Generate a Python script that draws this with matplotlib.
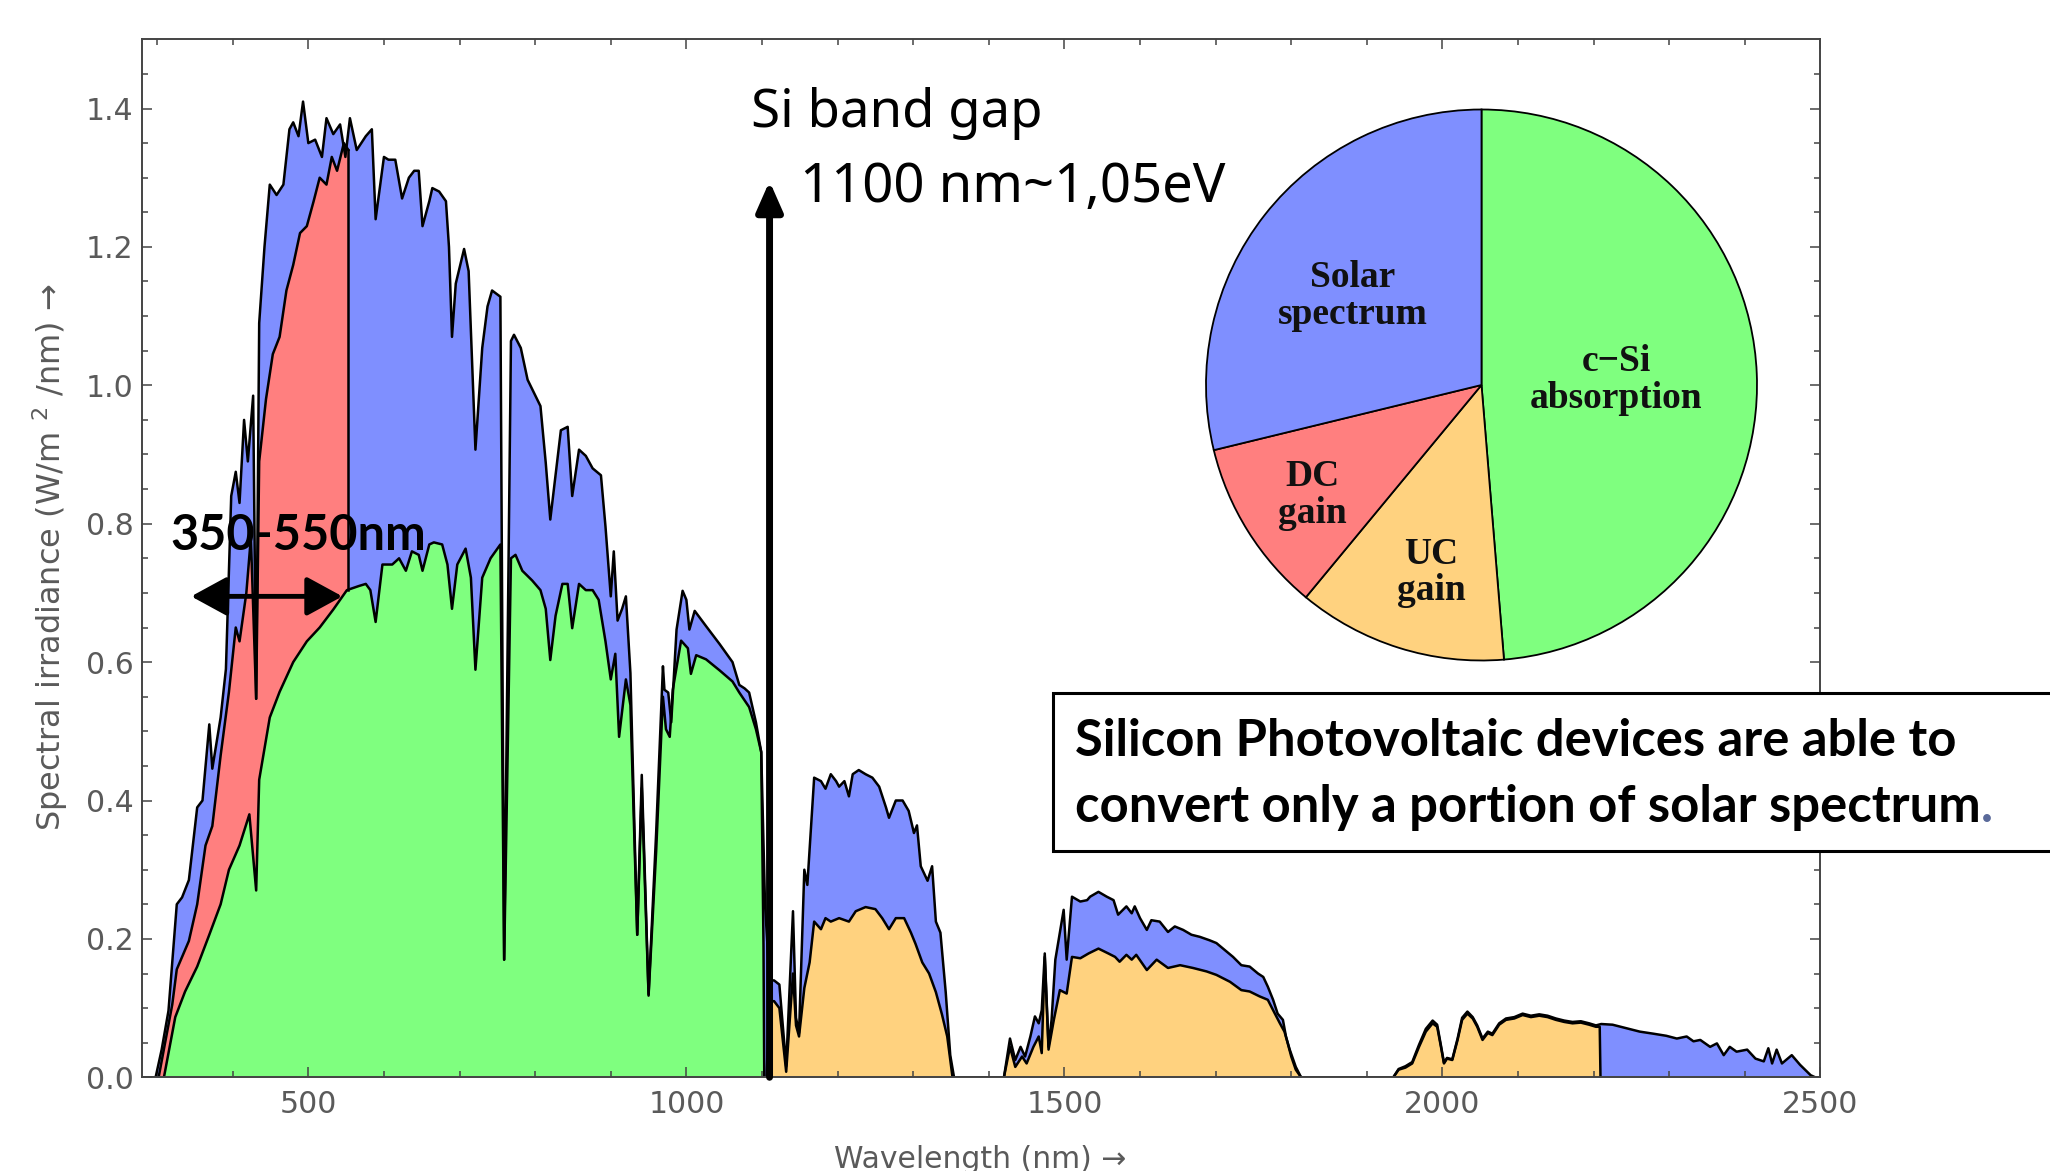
import matplotlib
matplotlib.use("Agg")
import matplotlib.pyplot as plt
from matplotlib.patches import Rectangle
from matplotlib.text import Annotation
import numpy as np

# AM1.5 solar spectrum (top curve): wavelength nm, W/m2/nm
solar_wl = [280, 298, 306, 315, 326, 333, 342, 353, 360, 369, 373, 384, 391, 398, 404, 409,
            415, 420, 427, 431, 435, 442, 449, 458, 467, 475, 480, 487, 493, 500, 509, 518,
            524, 533, 542, 549, 555, 564, 576, 584, 589, 600, 606, 615, 624, 633, 640, 646,
            651, 660, 664, 673, 682, 686, 690, 695, 706, 712, 721, 730, 737, 743, 754, 759,
            768, 772, 781, 790, 798, 807, 814, 820, 827, 834, 843, 849, 858, 867, 876, 887,
            893, 900, 904, 909, 915, 920, 926, 935, 941, 950, 960, 969, 971, 976, 980, 987,
            995, 1000, 1004, 1011, 1026, 1044, 1061, 1070, 1077, 1083, 1092, 1099, 1104, 1110,
            1116, 1123, 1132, 1141, 1145, 1149, 1156, 1160, 1169, 1178, 1184, 1191, 1198, 1202,
            1209, 1215, 1220, 1228, 1237, 1246, 1255, 1264, 1268, 1277, 1286, 1294, 1301, 1305,
            1310, 1319, 1325, 1330, 1336, 1343, 1349, 1354, 1420, 1428, 1435, 1442, 1448, 1455,
            1461, 1466, 1470, 1474, 1479, 1483, 1488, 1499, 1503, 1510, 1521, 1530, 1534, 1545,
            1556, 1565, 1571, 1582, 1589, 1593, 1600, 1609, 1615, 1626, 1637, 1646, 1657, 1668,
            1679, 1692, 1701, 1712, 1723, 1734, 1745, 1756, 1763, 1769, 1776, 1782, 1789, 1793,
            1800, 1806, 1813, 1935, 1942, 1951, 1960, 1969, 1978, 1987, 1993, 1998, 2002, 2006,
            2013, 2020, 2026, 2033, 2040, 2046, 2053, 2060, 2066, 2075, 2084, 2095, 2106, 2117,
            2128, 2139, 2150, 2161, 2172, 2183, 2194, 2203, 2210, 2225, 2243, 2261, 2279, 2296,
            2310, 2323, 2332, 2341, 2354, 2363, 2372, 2380, 2389, 2403, 2414, 2425, 2431, 2436,
            2442, 2449, 2462, 2473, 2487, 2493, 2500]
solar_irr = [0.0, 0.0, 0.04, 0.096, 0.25, 0.26, 0.285, 0.39, 0.40, 0.51, 0.446, 0.52, 0.59, 0.84, 0.875, 0.83,
             0.95, 0.89, 0.985, 0.547, 1.09, 1.20, 1.29, 1.275, 1.29, 1.37, 1.38, 1.36, 1.41, 1.35, 1.355, 1.33,
             1.386, 1.363, 1.377, 1.33, 1.386, 1.34, 1.36, 1.37, 1.24, 1.33, 1.326, 1.326, 1.27, 1.30, 1.31, 1.31,
             1.23, 1.266, 1.285, 1.28, 1.266, 1.20, 1.07, 1.147, 1.197, 1.165, 0.907, 1.054, 1.114, 1.137, 1.128, 0.17,
             1.064, 1.073, 1.054, 1.008, 0.99, 0.97, 0.888, 0.806, 0.87, 0.935, 0.94, 0.84, 0.907, 0.898, 0.88, 0.87,
             0.796, 0.695, 0.76, 0.66, 0.677, 0.695, 0.584, 0.206, 0.437, 0.12, 0.353, 0.594, 0.56, 0.556, 0.513, 0.647,
             0.703, 0.69, 0.647, 0.674, 0.652, 0.626, 0.60, 0.567, 0.562, 0.556, 0.513, 0.47, 0.25, 0.14,
             0.14, 0.134, 0.016, 0.24, 0.086, 0.064, 0.30, 0.278, 0.433, 0.428, 0.417, 0.438, 0.428, 0.42,
             0.428, 0.406, 0.438, 0.444, 0.438, 0.433, 0.42, 0.39, 0.375, 0.40, 0.40, 0.385, 0.353, 0.364,
             0.305, 0.284, 0.305, 0.225, 0.209, 0.123, 0.032, 0.0, 0.0, 0.056, 0.025, 0.044, 0.03, 0.059,
             0.088, 0.078, 0.097, 0.179, 0.044, 0.083, 0.17, 0.242, 0.17, 0.261, 0.254, 0.256, 0.261, 0.268,
             0.261, 0.256, 0.235, 0.247, 0.237, 0.247, 0.23, 0.213, 0.227, 0.225, 0.21, 0.218, 0.213, 0.206,
             0.203, 0.198, 0.194, 0.184, 0.174, 0.162, 0.16, 0.15, 0.145, 0.131, 0.112, 0.092, 0.083, 0.059,
             0.03, 0.011, 0.0, 0.0, 0.012, 0.016, 0.022, 0.047, 0.07, 0.082, 0.076, 0.046, 0.021, 0.028,
             0.026, 0.056, 0.086, 0.095, 0.087, 0.075, 0.056, 0.066, 0.063, 0.078, 0.085, 0.087, 0.092, 0.089,
             0.091, 0.089, 0.085, 0.082, 0.08, 0.081, 0.078, 0.075, 0.077, 0.076, 0.071, 0.066, 0.063, 0.06,
             0.056, 0.059, 0.052, 0.054, 0.044, 0.049, 0.032, 0.044, 0.037, 0.04, 0.027, 0.023, 0.042, 0.02,
             0.04, 0.02, 0.032, 0.018, 0.003, 0.0, 0.0]

# down-conversion gain (red), 300-550 nm
dc_wl = [302, 320, 326, 342, 353, 364, 373, 384, 395, 404, 409, 418, 424, 431, 435, 444,
         453, 462, 471, 480, 489, 498, 507, 515, 524, 531, 538, 547, 553]
dc_irr = [0.0, 0.105, 0.156, 0.197, 0.25, 0.335, 0.363, 0.465, 0.557, 0.65, 0.63, 0.70, 0.78, 0.547, 0.89, 0.98,
          1.045, 1.07, 1.137, 1.174, 1.22, 1.23, 1.266, 1.30, 1.29, 1.33, 1.31, 1.35, 1.34]

# c-Si absorption (green), up to the band gap
si_wl = [309, 324, 337, 353, 369, 384, 395, 409, 422, 431, 435, 449, 462, 480, 498, 515,
         533, 551, 567, 576, 582, 589, 598, 611, 620, 629, 637, 646, 651, 660, 666, 677,
         684, 690, 697, 708, 715, 721, 730, 741, 754, 759, 768, 774, 783, 796, 807, 814,
         820, 827, 836, 843, 849, 858, 867, 876, 884, 893, 900, 906, 911, 920, 926, 935,
         941, 950, 960, 969, 973, 978, 982, 993, 1002, 1006, 1013, 1026, 1044, 1061, 1070, 1083,
         1092, 1099, 1102, 1103]
si_irr = [0.0, 0.087, 0.124, 0.16, 0.206, 0.25, 0.30, 0.335, 0.38, 0.27, 0.43, 0.52, 0.557, 0.60, 0.63, 0.65,
          0.676, 0.704, 0.71, 0.713, 0.704, 0.658, 0.741, 0.741, 0.75, 0.732, 0.76, 0.755, 0.732, 0.77, 0.773, 0.77,
          0.741, 0.677, 0.741, 0.764, 0.722, 0.589, 0.722, 0.75, 0.77, 0.17, 0.75, 0.755, 0.732, 0.718, 0.704, 0.677,
          0.603, 0.667, 0.713, 0.713, 0.649, 0.713, 0.704, 0.704, 0.69, 0.63, 0.575, 0.612, 0.492, 0.575, 0.538, 0.206,
          0.418, 0.118, 0.326, 0.55, 0.503, 0.492, 0.56, 0.631, 0.62, 0.583, 0.61, 0.604, 0.588, 0.572, 0.556, 0.535,
          0.503, 0.47, 0.19, 0.0]

# up-conversion gain (orange), beyond the band gap
uc_wl = [1106, 1110, 1116, 1123, 1132, 1141, 1145, 1149, 1156, 1163, 1169, 1178, 1184, 1191, 1202, 1215,
         1224, 1237, 1250, 1259, 1268, 1277, 1288, 1297, 1303, 1312, 1321, 1330, 1338, 1345, 1352, 1420,
         1428, 1435, 1444, 1450, 1459, 1466, 1470, 1474, 1479, 1486, 1494, 1503, 1510, 1521, 1532, 1545,
         1558, 1567, 1573, 1582, 1589, 1595, 1609, 1622, 1637, 1653, 1670, 1688, 1701, 1719, 1734, 1745,
         1758, 1769, 1776, 1785, 1791, 1798, 1806, 1813, 1935, 1942, 1951, 1960, 1969, 1978, 1987, 1993,
         1998, 2002, 2006, 2013, 2020, 2026, 2033, 2040, 2046, 2053, 2060, 2066, 2075, 2084, 2095, 2106,
         2117, 2128, 2139, 2150, 2161, 2172, 2183, 2194, 2203, 2208, 2209]
uc_irr = [0.0, 0.11, 0.11, 0.10, 0.008, 0.15, 0.075, 0.059, 0.129, 0.166, 0.225, 0.214, 0.23, 0.225, 0.23, 0.225,
          0.24, 0.246, 0.243, 0.23, 0.214, 0.23, 0.23, 0.209, 0.193, 0.166, 0.15, 0.123, 0.091, 0.059, 0.0, 0.0,
          0.044, 0.015, 0.03, 0.02, 0.044, 0.059, 0.035, 0.174, 0.04, 0.083, 0.126, 0.121, 0.174, 0.172, 0.179, 0.186,
          0.179, 0.174, 0.167, 0.177, 0.17, 0.177, 0.155, 0.17, 0.158, 0.162, 0.158, 0.153, 0.148, 0.138, 0.126, 0.124,
          0.117, 0.112, 0.097, 0.078, 0.066, 0.04, 0.015, 0.0, 0.0, 0.011, 0.014, 0.02, 0.044, 0.066, 0.078, 0.073,
          0.044, 0.02, 0.027, 0.025, 0.054, 0.083, 0.092, 0.085, 0.073, 0.054, 0.064, 0.061, 0.076, 0.083, 0.085, 0.09,
          0.087, 0.089, 0.087, 0.083, 0.08, 0.078, 0.079, 0.076, 0.073, 0.073, 0.0]

pie_labels = ["c\u2212Si\nabsorption", "UC\ngain", "DC\ngain", "Solar\nspectrum"]
pie_values = [48.7, 12.3, 10.2, 28.8]

x_ticks = [500, 1000, 1500, 2000, 2500]
y_ticks = [0.0, 0.2, 0.4, 0.6, 0.8, 1.0, 1.2, 1.4]

BLUE = "#7f8fff"
RED = "#ff7f7f"
GREEN = "#7fff7f"
ORANGE = "#ffd27f"

W, H = 2050, 1171


def fx(x):
    return x / W


def fy(y):
    return 1 - y / H


plt.rcParams['mathtext.fontset'] = 'custom'
plt.rcParams['mathtext.rm'] = 'DejaVu Sans'

fig = plt.figure(figsize=(W / 100, H / 100), dpi=100)
ax = fig.add_axes([fx(142), fy(1077.3), (1820.5 - 142) / W, (1077.3 - 39.3) / H])

# filled areas first, outlines on top
ax.fill_between(solar_wl, solar_irr, color=BLUE, lw=0)
ax.fill_between(dc_wl, dc_irr, color=RED, lw=0)
ax.fill_between(si_wl, si_irr, color=GREEN, lw=0)
ax.fill_between(uc_wl, uc_irr, color=ORANGE, lw=0)

line_kw = dict(color='black', lw=1.8, solid_joinstyle='round')
ax.plot(solar_wl, solar_irr, **line_kw)
ax.plot(dc_wl, dc_irr, **line_kw)
ax.plot(si_wl, si_irr, **line_kw)
ax.plot(uc_wl, uc_irr, **line_kw)
ax.plot([dc_wl[-1]] * 2, [np.interp(dc_wl[-1], si_wl, si_irr), dc_irr[-1]], **line_kw)

ax.set_xlim(280, 2500)
ax.set_ylim(0, 1.5)
ax.set_xticks(x_ticks)
ax.set_xticks(np.arange(300, 2500, 100), minor=True)
ax.set_yticks(y_ticks)
ax.set_yticklabels([f"{v:.1f}" for v in y_ticks])
ax.set_yticks(np.arange(0, 1.5, 0.05), minor=True)
ax.tick_params(which='both', direction='in', top=True, right=True, color='#444444', width=1.1)
ax.tick_params(which='major', length=7, labelsize=21.5, labelcolor='#5a5a5a')
ax.tick_params(which='minor', length=4)
ax.tick_params(axis='x', pad=9)
ax.tick_params(axis='y', pad=6)
for lab in ax.get_xticklabels() + ax.get_yticklabels():
    lab.set_fontfamily('DejaVu Sans')
for sp in ax.spines.values():
    sp.set_color('#444444')
    sp.set_linewidth(1.4)

fig.text(fx(50), fy(557), "Spectral irradiance (W/m $^{2}$ /nm) \u2192", rotation=90,
         ha='center', va='center', fontsize=23, color='#5a5a5a', family='DejaVu Sans')
fig.text(fx(980), fy(1160), "Wavelength (nm) \u2192", ha='center', va='center',
         fontsize=21.5, color='#5a5a5a', family='DejaVu Sans')

# 350-550 nm range marker
ax.annotate('', xy=(345, 0.695), xytext=(545, 0.695),
            arrowprops=dict(arrowstyle='<|-|>,head_length=0.55,head_width=0.3', lw=3.5,
                            color='black', mutation_scale=40, shrinkA=0, shrinkB=0))
fig.text(fx(170), fy(536), "350-550nm", fontsize=35, weight='bold', family='Lato',
         ha='left', va='center')

# band gap arrow
ax.annotate('', xy=(1110, 1.295), xytext=(1110, 0.0),
            arrowprops=dict(arrowstyle='-|>,head_length=0.5,head_width=0.22', lw=5,
                            color='black', mutation_scale=36, shrinkA=0, shrinkB=0))
fig.text(fx(751), fy(127), "Si band gap", fontsize=38, family='Noto Sans', va='baseline')
fig.text(fx(800), fy(202), "1100 nm~1,05eV", fontsize=39.2, family='Noto Sans', va='baseline')

# text box
box = Rectangle((fx(1053), fy(851)), (2070 - 1053) / W, (851 - 692.7) / H,
                transform=fig.transFigure, fc='white', ec='black', lw=2.2, zorder=5)
fig.add_artist(box)
fig.text(fx(1075), fy(756), "Silicon Photovoltaic devices are able to", fontsize=36.5,
         weight='bold', family='Lato', va='baseline', zorder=6)
t2 = fig.text(fx(1075), fy(822), "convert only a portion of solar spectrum", fontsize=36.5,
              weight='bold', family='Lato', va='baseline', zorder=6)
dot = Annotation('.', xy=(1, 0), xycoords=t2, ha='left', va='bottom', fontsize=36.5,
                 weight='bold', family='Lato', color='#5a6a9a', zorder=6)
fig.add_artist(dot)

# pie inset
pax = fig.add_axes([fx(1481.5 - 275.5), fy(385 + 275.5), 551 / W, 551 / H])
wedges, _ = pax.pie(pie_values, colors=[GREEN, ORANGE, RED, BLUE], startangle=90,
                    counterclock=False, wedgeprops=dict(edgecolor='black', linewidth=1.3))
for w in wedges:
    w.set_clip_on(False)
pax.set_xlim(-1, 1)
pax.set_ylim(-1, 1)
label_pos = [(0.488, 0.018), (-0.183, -0.681), (-0.613, -0.399), (-0.466, 0.323)]
for lab, (lx, ly) in zip(pie_labels, label_pos):
    pax.text(lx, ly, lab, ha='center', va='center', fontsize=27, weight='bold',
             family=['Liberation Serif', 'DejaVu Serif'], color='#111111', linespacing=1.05)

fig.savefig('out.png', dpi=100)
